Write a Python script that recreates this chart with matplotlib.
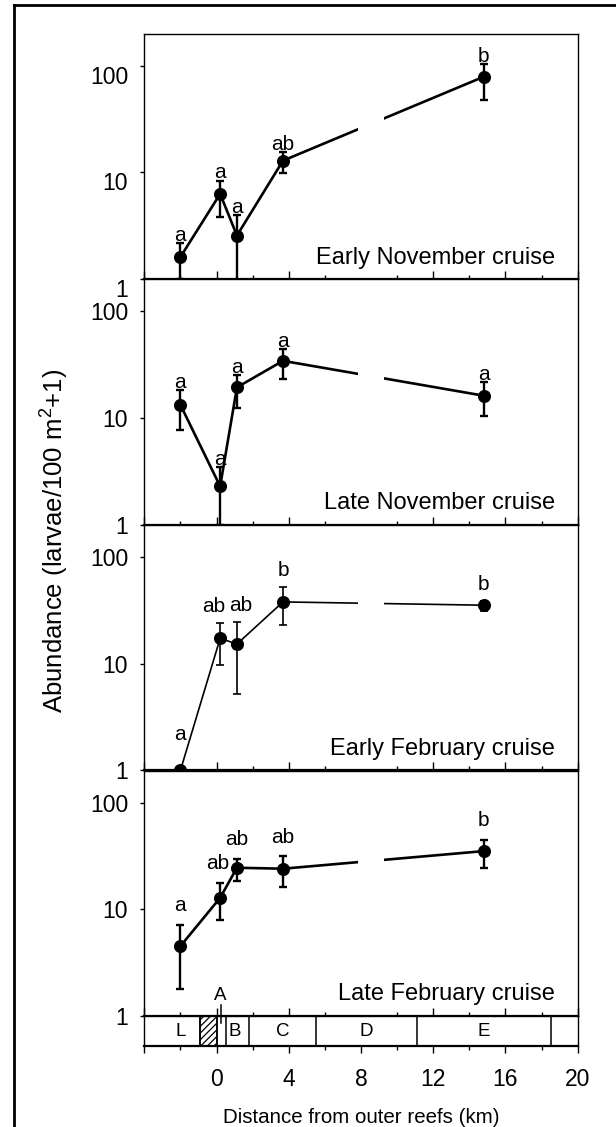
import matplotlib
matplotlib.use("Agg")
import matplotlib.pyplot as plt
from matplotlib.lines import Line2D
from matplotlib.ticker import FixedLocator, MultipleLocator, FuncFormatter, NullLocator
from matplotlib.transforms import ScaledTranslation

plt.rcParams['font.family'] = ['Liberation Sans', 'DejaVu Sans']
plt.rcParams['mathtext.fontset'] = 'custom'
plt.rcParams['mathtext.rm'] = 'Liberation Sans'
plt.rcParams['mathtext.it'] = 'Liberation Sans:italic'
plt.rcParams['hatch.linewidth'] = 0.9

# ---------------- data ----------------
distance_km = [-2.0, 0.2, 1.13, 3.68, 14.8]

cruise_names = ["Early November cruise", "Late November cruise",
                "Early February cruise", "Late February cruise"]

early_nov_mean = [1.61, 6.3, 2.56, 12.9, 79.0]
early_nov_upper = [2.18, 8.4, 4.0, 15.4, 104.0]
early_nov_lower = [1.0, 3.8, 0.9, 9.9, 48.0]
early_nov_sig = ["a", "a", "a", "ab", "b"]

late_nov_mean = [13.3, 2.29, 19.4, 34.4, 16.2]
late_nov_upper = [18.4, 3.5, 25.5, 44.3, 21.6]
late_nov_lower = [7.8, 1.0, 12.4, 23.2, 10.4]
late_nov_sig = ["a", "a", "a", "a", "a"]

early_feb_mean = [1.0, 17.3, 15.3, 38.0, 35.4]
early_feb_upper = [1.0, 24.2, 24.7, 52.6, 38.6]
early_feb_lower = [1.0, 9.7, 5.19, 23.0, 31.3]
early_feb_sig = ["a", "ab", "ab", "b", "b"]

late_feb_mean = [4.51, 12.8, 24.5, 24.0, 35.1]
late_feb_upper = [7.16, 17.6, 29.7, 31.3, 44.8]
late_feb_lower = [1.80, 7.85, 18.6, 16.1, 24.5]
late_feb_sig = ["a", "ab", "ab", "ab", "b"]

y_ticks = [1, 10, 100]
x_tick_labels_from = 0

zone_edges = [-0.9, 0.0, 0.5, 1.8, 5.5, 11.1, 18.5]
zone_names = ["L", "B", "C", "D", "E"]
zone_label_km = [-2.0, 1.0, 3.65, 8.3, 14.8]
reef_zone = (-0.9, 0.0)
station_A_km = 0.23
line_gap_km = (7.85, 9.3)

panels = [
    (early_nov_mean, early_nov_upper, early_nov_lower, early_nov_sig),
    (late_nov_mean, late_nov_upper, late_nov_lower, late_nov_sig),
    (early_feb_mean, early_feb_upper, early_feb_lower, early_feb_sig),
    (late_feb_mean, late_feb_upper, late_feb_lower, late_feb_sig),
]

# ---------------- layout ----------------
W, H = 616, 1127
fig = plt.figure(figsize=(W / 100, H / 100), dpi=100)


def fx(px):
    return px / W


def fy(py):
    return 1 - py / H


left_px, right_px = 144.3, 577.7
tops_px = [33.7, 279.3, 525.0, 770.5]
ph = 245.4
line_w = [1.9, 1.9, 1.2, 1.9]
err_w = [1.7, 1.7, 1.2, 1.7]
sig_off = [1.5, 1.5, 8.0, 10.0]
# horizontal nudges (points) of the significance letters
sig_dx = [[0, 0, 0, 0, 0], [0, 0, 0, 0, 0], [0, -5, 3, 0, 0], [0, -2, 0, 0, 0]]

for i, (top, (mean, upper, lower, sig)) in enumerate(zip(tops_px, panels)):
    ax = fig.add_axes([fx(left_px), fy(top + ph), fx(right_px - left_px), ph / H])
    ax.set_yscale('log')
    ax.set_ylim(1, 200)
    ax.set_xlim(-4, 20)

    ax.plot(distance_km, mean, '-', color='k', lw=line_w[i], zorder=2)
    ax.axvspan(line_gap_km[0], line_gap_km[1], color='white', lw=0, zorder=2.2)
    yerr = [[m - lo for m, lo in zip(mean, lower)], [u - m for m, u in zip(mean, upper)]]
    ax.errorbar(distance_km, mean, yerr=yerr, fmt='o', color='k', ms=8.4,
                ecolor='k', elinewidth=err_w[i], capsize=3.2, capthick=err_w[i],
                zorder=3)
    for j, (xk, m, u, s) in enumerate(zip(distance_km, mean, upper, sig)):
        off = sig_off[i] if u > m else 22
        ax.annotate(s, xy=(xk, u), xytext=(sig_dx[i][j], off),
                    textcoords='offset points',
                    ha='center', va='baseline', fontsize=15, zorder=4)

    ax.text(0.9477, 0.063, cruise_names[i], transform=ax.transAxes,
            ha='right', va='baseline', fontsize=17)

    ax.yaxis.set_major_locator(FixedLocator(y_ticks))
    ax.yaxis.set_minor_locator(NullLocator())
    ax.yaxis.set_major_formatter(FuncFormatter(lambda v, p: f"{v:g}"))
    ax.tick_params(axis='y', which='major', direction='out', length=3.1,
                   width=1.0, labelsize=16.5, pad=8.5)
    ax.xaxis.set_major_locator(MultipleLocator(4))
    ax.xaxis.set_minor_locator(MultipleLocator(2))
    ax.tick_params(axis='x', which='major', direction='in', length=6,
                   width=1.0, labelbottom=False)
    ax.tick_params(axis='x', which='minor', direction='in', length=3,
                   width=1.0, labelbottom=False)
    for sp in ('left', 'right', 'top'):
        ax.spines[sp].set_linewidth(1.0)
    ax.spines['bottom'].set_linewidth(1.6)
    ax.spines['bottom'].set_zorder(3.5)

    if i == 0:
        shift = ScaledTranslation(0, -0.09, fig.dpi_scale_trans)
        for lbl in ax.get_yticklabels():
            lbl.set_transform(lbl.get_transform() + shift)

# ---------------- zone bar ----------------
zax = fig.add_axes([fx(left_px), fy(1046), fx(right_px - left_px), (1046 - 1015.5) / H])
zax.set_xlim(-4, 20)
zax.set_ylim(0, 1)
zax.set_yticks([])
zax.xaxis.set_major_locator(MultipleLocator(4))
zax.xaxis.set_minor_locator(MultipleLocator(2))
zax.xaxis.set_major_formatter(
    FuncFormatter(lambda v, p: f"{v:g}" if v >= x_tick_labels_from else ""))
zax.tick_params(axis='x', which='major', direction='out', length=5.3,
                width=1.0, labelsize=16.5, pad=10.5)
zax.tick_params(axis='x', which='minor', direction='out', length=3, width=1.0)
for sp in ('left', 'right', 'top'):
    zax.spines[sp].set_linewidth(1.0)
zax.spines['bottom'].set_linewidth(1.6)
zax.axvspan(reef_zone[0], reef_zone[1], facecolor='white', edgecolor='k',
            hatch='/////', lw=1.1)
for e in zone_edges:
    zax.axvline(e, color='k', lw=1.1)
for name, xk in zip(zone_names, zone_label_km):
    zax.text(xk, 0.47, name, ha='center', va='center', fontsize=13.5)
zax.plot([station_A_km, station_A_km], [0.754, 1.344], color='k', lw=1.1,
         clip_on=False)
zax.text(station_A_km, 1.64, "A", ha='center', va='center', fontsize=13.5,
         clip_on=False)
zax.set_xlabel("Distance from outer reefs (km)", fontsize=14.8, labelpad=12)

# ---------------- y label & frame ----------------
fig.text(fx(55), fy(541), "Abundance (larvae/100 m$^2$+1)", rotation=90,
         ha='center', va='center', fontsize=18.5)
fig.add_artist(Line2D([fx(14), fx(14)], [0, fy(5)], color='k', lw=2.0,
                      transform=fig.transFigure))
fig.add_artist(Line2D([fx(14), 1], [fy(5), fy(5)], color='k', lw=2.0,
                      transform=fig.transFigure))

fig.savefig("out.png", dpi=100)
